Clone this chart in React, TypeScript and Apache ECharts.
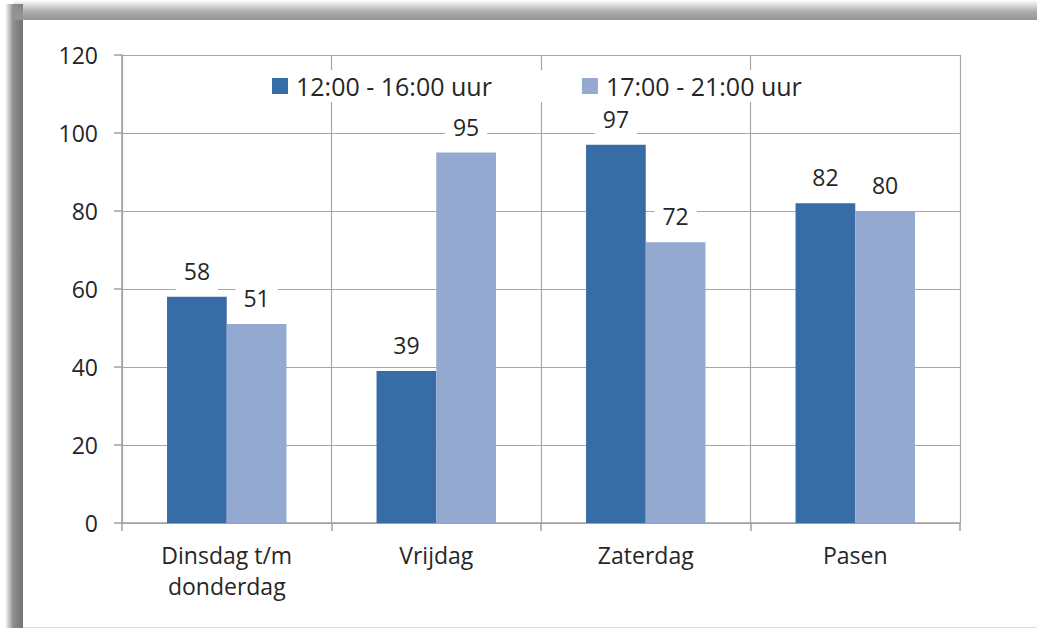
import React, { useEffect, useRef } from "react";
import * as echarts from "echarts";

const categories = ["Dinsdag t/m\ndonderdag", "Vrijdag", "Zaterdag", "Pasen"];
const seriesNames = ["12:00 - 16:00 uur", "17:00 - 21:00 uur"];
const afternoon = [58, 39, 97, 82];
const evening = [51, 95, 72, 80];
const colors = ["#386CA7", "#93A9D0"];
const FONT = "Open Sans";
const FS = 23;
const TXT = "#262626";

export default function App() {
  const ref = useRef<HTMLDivElement>(null);
  useEffect(() => {
    if (!ref.current) return;
    const chart = echarts.init(ref.current, null, { renderer: "svg" });
    const labelCfg = {
      show: true,
      position: "top",
      distance: 4,
      color: TXT,
      fontSize: FS,
      lineHeight: 24,
      fontFamily: FONT,
      backgroundColor: "#ffffff",
      padding: [4, 8, 10, 8],
    };
    chart.setOption({
      animation: false,
      backgroundColor: "#ffffff",
      textStyle: { fontFamily: FONT },
      graphic: [
        {
          type: "rect",
          silent: true,
          z: -10,
          shape: { x: 5, y: 4, width: 18, height: 624 },
          style: {
            fill: {
              type: "linear", x: 0, y: 0, x2: 1, y2: 0,
              colorStops: [
                { offset: 0, color: "rgba(115,115,115,0)" },
                { offset: 0.45, color: "rgba(115,115,115,0.8)" },
                { offset: 1, color: "#737373" },
              ],
            },
          },
        },
        {
          type: "rect",
          silent: true,
          z: -10,
          shape: { x: 14, y: 0, width: 1023, height: 20 },
          style: {
            fill: {
              type: "linear", x: 0, y: 0, x2: 0, y2: 1,
              colorStops: [
                { offset: 0, color: "rgba(150,150,150,0)" },
                { offset: 0.6, color: "rgba(150,150,150,0.8)" },
                { offset: 1, color: "#959595" },
              ],
            },
          },
        },
        {
          type: "rect",
          silent: true,
          z: -9,
          shape: { x: 23, y: 20, width: 1014, height: 606 },
          style: { fill: "#ffffff" },
        },
        {
          type: "line",
          silent: true,
          z: -9,
          shape: { x1: 23, y1: 627.5, x2: 1037, y2: 627.5 },
          style: { stroke: "#dddddd", lineWidth: 1 },
        },
      ],
      grid: { left: 122, top: 55, right: 77, bottom: 105 },
      legend: {
        data: seriesNames,
        left: 264,
        top: 70,
        padding: [1, 8, 1, 8],
        backgroundColor: "#ffffff",
        itemWidth: 16,
        itemHeight: 16,
        itemGap: 90,
        icon: "rect",
        textStyle: { fontSize: 25, color: TXT, fontFamily: FONT, padding: [0, 0, 0, 3], lineHeight: 30 },
        z: 10,
      },
      xAxis: {
        type: "category",
        data: categories,
        axisLine: { lineStyle: { color: "#a0a0a0", width: 1.5 } },
        axisTick: { show: true, length: 8, alignWithLabel: false, lineStyle: { color: "#a0a0a0", width: 1.5 } },
        splitLine: { show: true, lineStyle: { color: "#a6a6a6", width: 1.2 } },
        axisLabel: {
          fontSize: FS,
          color: TXT,
          fontFamily: FONT,
          lineHeight: 31,
          margin: 16,
        },
      },
      yAxis: {
        type: "value",
        min: 0,
        max: 120,
        interval: 20,
        axisLine: { show: true, lineStyle: { color: "#a0a0a0", width: 1.5 } },
        axisTick: { show: true, length: 8, lineStyle: { color: "#a0a0a0", width: 1.5 } },
        splitLine: { show: true, lineStyle: { color: "#a6a6a6", width: 1.2 } },
        axisLabel: { fontSize: FS, color: TXT, fontFamily: FONT, margin: 24 },
      },
      series: [
        {
          name: seriesNames[0],
          type: "bar",
          data: afternoon,
          itemStyle: { color: colors[0] },
          barGap: "0%",
          barCategoryGap: "43%",
          label: labelCfg,
        },
        {
          name: seriesNames[1],
          type: "bar",
          data: evening,
          itemStyle: { color: colors[1] },
          barGap: "0%",
          barCategoryGap: "43%",
          label: labelCfg,
        },
      ],
    });
    return () => chart.dispose();
  }, []);
  return (
    <div
      ref={ref}
      style={{ position: "absolute", left: 0, top: 0, width: 1037, height: 628 }}
    />
  );
}
